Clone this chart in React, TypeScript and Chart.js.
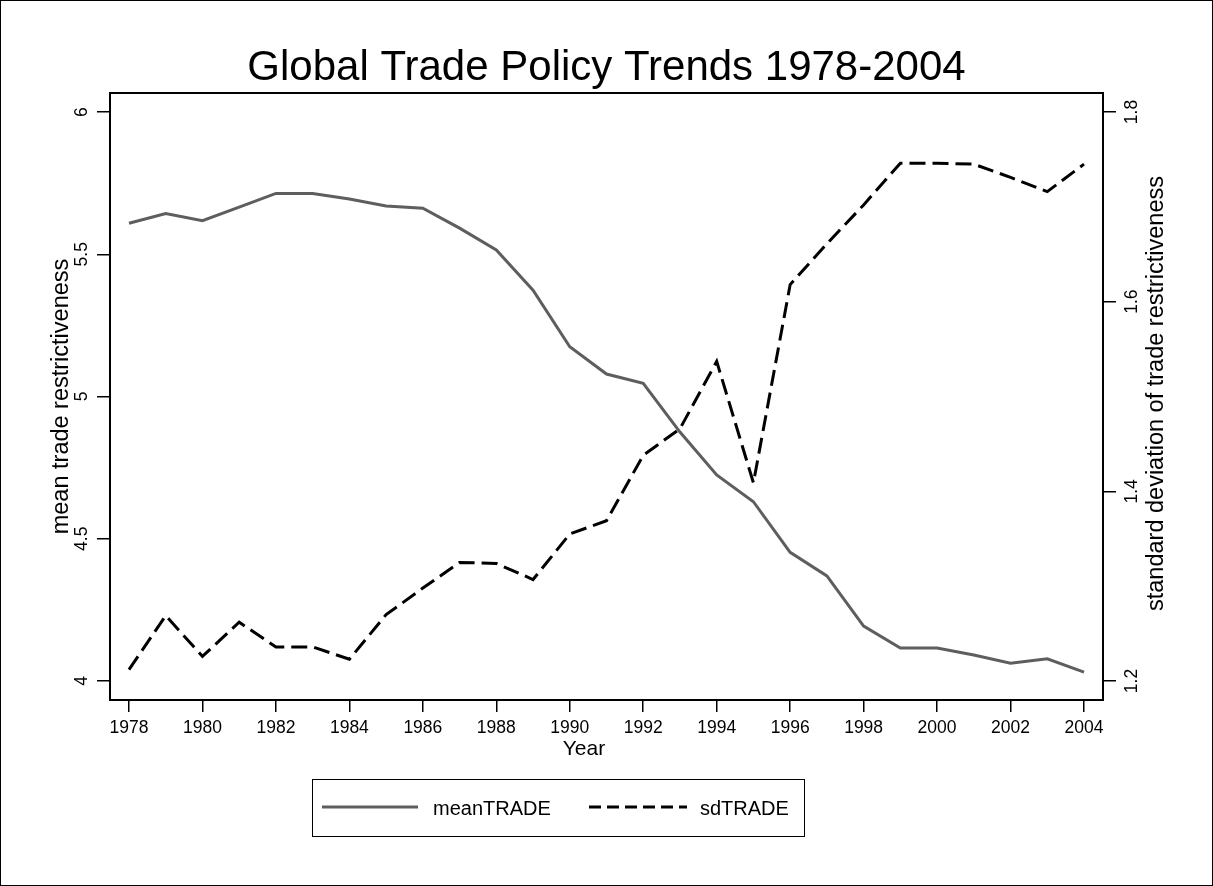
import React, { useEffect, useRef } from "react";
import { Chart, registerables } from "chart.js";

Chart.register(...registerables);

const chartTitle = "Global Trade Policy Trends 1978-2004";
const xTitle = "Year";
const yLeftTitle = "mean trade restrictiveness";
const yRightTitle = "standard deviation of trade restrictiveness";

const years = [1978, 1979, 1980, 1981, 1982, 1983, 1984, 1985, 1986, 1987, 1988, 1989, 1990, 1991, 1992, 1993, 1994, 1995, 1996, 1997, 1998, 1999, 2000, 2001, 2002, 2003, 2004];
const meanTRADE = [5.609, 5.643, 5.618, 5.666, 5.714, 5.714, 5.694, 5.670, 5.662, 5.592, 5.515, 5.374, 5.175, 5.079, 5.046, 4.875, 4.724, 4.630, 4.452, 4.369, 4.193, 4.116, 4.116, 4.091, 4.062, 4.078, 4.031];
const sdTRADE = [1.212, 1.269, 1.226, 1.262, 1.236, 1.236, 1.223, 1.270, 1.298, 1.325, 1.324, 1.307, 1.355, 1.369, 1.438, 1.466, 1.537, 1.409, 1.618, 1.661, 1.702, 1.746, 1.746, 1.745, 1.731, 1.716, 1.745];

const xTicks = [1978, 1980, 1982, 1984, 1986, 1988, 1990, 1992, 1994, 1996, 1998, 2000, 2002, 2004];
const leftTicks = [4, 4.5, 5, 5.5, 6];
const rightTicks = [1.2, 1.4, 1.6, 1.8];
const seriesNames = ["meanTRADE", "sdTRADE"];

const W = 1213;
const H = 886;
const FONT = '"Liberation Sans", Arial, Helvetica, sans-serif';
const MEAN_COLOR = "#5e5e5e";
const SD_COLOR = "#000000";

const decor = {
  id: "decor",
  beforeDraw(chart: any) {
    const ctx = chart.ctx;
    ctx.save();
    ctx.fillStyle = "#ffffff";
    ctx.fillRect(0, 0, W, H);
    ctx.restore();
  },
  afterDraw(chart: any) {
    const ctx = chart.ctx;
    const { left, right, top, bottom } = chart.chartArea;
    ctx.save();
    ctx.strokeStyle = "#000";
    ctx.lineWidth = 1;
    ctx.strokeRect(0.5, 0.5, W - 1, H - 1);
    ctx.lineWidth = 2;
    ctx.strokeRect(left, top, right - left, bottom - top);

    ctx.fillStyle = "#000";
    ctx.font = `42px ${FONT}`;
    ctx.textAlign = "center";
    ctx.textBaseline = "alphabetic";
    ctx.fillText(chartTitle, W / 2, 80);

    ctx.font = `21px ${FONT}`;
    ctx.fillText(xTitle, 584, 755);

    const yL = chart.scales.y;
    const yR = chart.scales.y1;
    ctx.font = `17.5px ${FONT}`;
    ctx.textBaseline = "middle";
    yL.ticks.forEach((t: any) => {
      const py = yL.getPixelForValue(t.value);
      ctx.save();
      ctx.translate(82, py);
      ctx.rotate(-Math.PI / 2);
      ctx.fillText(String(t.value), 0, 0);
      ctx.restore();
    });
    yR.ticks.forEach((t: any) => {
      const py = yR.getPixelForValue(t.value);
      ctx.save();
      ctx.translate(1132, py);
      ctx.rotate(-Math.PI / 2);
      ctx.fillText(t.value.toFixed(1), 0, 0);
      ctx.restore();
    });

    const midY = (top + bottom) / 2;
    ctx.font = `23.5px ${FONT}`;
    ctx.save();
    ctx.translate(62, midY);
    ctx.rotate(-Math.PI / 2);
    ctx.fillText(yLeftTitle, 0, 0);
    ctx.restore();
    ctx.save();
    ctx.translate(1157, midY - 3);
    ctx.rotate(-Math.PI / 2);
    ctx.fillText(yRightTitle, 0, 0);
    ctx.restore();

    ctx.lineWidth = 1;
    ctx.strokeStyle = "#000";
    ctx.strokeRect(312.5, 779.5, 492, 57);
    const ly = 807;
    ctx.lineWidth = 3;
    ctx.strokeStyle = MEAN_COLOR;
    ctx.setLineDash([]);
    ctx.beginPath();
    ctx.moveTo(322, ly);
    ctx.lineTo(418, ly);
    ctx.stroke();
    ctx.strokeStyle = SD_COLOR;
    ctx.setLineDash([12, 6]);
    ctx.beginPath();
    ctx.moveTo(589, ly);
    ctx.lineTo(687, ly);
    ctx.stroke();
    ctx.setLineDash([]);
    ctx.font = `20px ${FONT}`;
    ctx.textAlign = "left";
    ctx.textBaseline = "alphabetic";
    ctx.fillText(seriesNames[0], 433, 815);
    ctx.fillText(seriesNames[1], 700, 815);
    ctx.restore();
  },
};

export default function App() {
  const ref = useRef<HTMLCanvasElement | null>(null);
  useEffect(() => {
    document.body.style.margin = "0";
    if (!ref.current) return;
    const tickGrid = {
      display: true,
      drawOnChartArea: false,
      drawTicks: true,
      color: "#000",
      lineWidth: 1.5,
    };
    const chart = new Chart(ref.current, {
      type: "line",
      data: {
        datasets: [
          {
            label: seriesNames[0],
            data: years.map((y, i) => ({ x: y, y: meanTRADE[i] })),
            borderColor: MEAN_COLOR,
            borderWidth: 3,
            pointRadius: 0,
            tension: 0,
            yAxisID: "y",
          },
          {
            label: seriesNames[1],
            data: years.map((y, i) => ({ x: y, y: sdTRADE[i] })),
            borderColor: SD_COLOR,
            borderWidth: 3,
            borderDash: [16, 7],
            pointRadius: 0,
            tension: 0,
            yAxisID: "y1",
          },
        ],
      },
      options: {
        animation: false,
        responsive: false,
        maintainAspectRatio: false,
        layout: { padding: { top: 93, bottom: 128, left: 0, right: 0 } },
        plugins: {
          legend: { display: false },
          title: { display: false },
          tooltip: { enabled: false },
        },
        scales: {
          x: {
            type: "linear",
            min: 1977.483,
            max: 2004.517,
            afterBuildTicks: (s: any) => {
              s.ticks = xTicks.map((v) => ({ value: v }));
            },
            afterFit: (s: any) => {
              s.height = 58;
            },
            ticks: {
              autoSkip: false,
              maxRotation: 0,
              minRotation: 0,
              padding: 6,
              color: "#000",
              font: { family: FONT, size: 17.5 },
              callback: (v: any) => String(v),
            },
            grid: { ...tickGrid, tickLength: 12 },
            border: { display: false },
          },
          y: {
            type: "linear",
            position: "left",
            min: 3.933,
            max: 6.067,
            afterBuildTicks: (s: any) => {
              s.ticks = leftTicks.map((v) => ({ value: v }));
            },
            afterFit: (s: any) => {
              s.width = 110;
            },
            ticks: { display: false },
            grid: { ...tickGrid, tickLength: 13 },
            border: { display: false },
          },
          y1: {
            type: "linear",
            position: "right",
            min: 1.18,
            max: 1.82,
            afterBuildTicks: (s: any) => {
              s.ticks = rightTicks.map((v) => ({ value: v }));
            },
            afterFit: (s: any) => {
              s.width = 110;
            },
            ticks: { display: false },
            grid: { ...tickGrid, tickLength: 13 },
            border: { display: false },
          },
        },
      },
      plugins: [decor],
    } as any);
    return () => chart.destroy();
  }, []);
  return (
    <div style={{ position: "fixed", left: 0, top: 0, width: W, height: H, background: "#fff" }}>
      <canvas ref={ref} width={W} height={H} style={{ display: "block" }} />
    </div>
  );
}
